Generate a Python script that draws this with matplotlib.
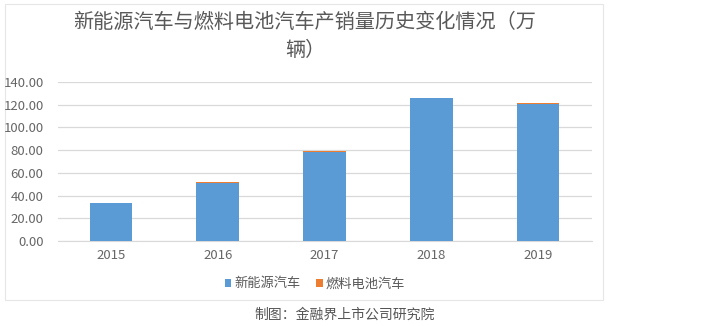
import numpy as np
import matplotlib.pyplot as plt
import matplotlib.patches as patches

plt.rcParams['font.family'] = ['Noto Sans CJK SC', 'DejaVu Sans']

years = ['2015', '2016', '2017', '2018', '2019']
nev = [33.1, 51.2, 78.5, 125.6, 120.6]      # 新能源汽车
fuel_cell = [0.0, 0.4, 0.6, 0.6, 0.7]       # 燃料电池汽车
yticks = [0, 20, 40, 60, 80, 100, 120, 140]

W, H = 722, 326
fig = plt.figure(figsize=(W / 100, H / 100), dpi=100)
fig.patch.set_facecolor('white')

# panel frame
fig.patches.append(patches.Rectangle((5 / W, 1 - 300 / H), 598 / W, 296 / H,
                                     transform=fig.transFigure, facecolor='white',
                                     edgecolor='#e6e6e6', linewidth=0.8, zorder=-5))

ax = fig.add_axes([57.5 / W, 1 - 241 / H, 534 / W, 159 / H])
ax.set_zorder(2)
x = np.arange(len(years))
ax.bar(x, nev, width=0.4, color='#5b9bd5', label='新能源汽车', zorder=3)
ax.bar(x, fuel_cell, width=0.4, bottom=nev, color='#ed7d31', label='燃料电池汽车', zorder=3)

ax.set_xlim(-0.5, len(years) - 0.5)
ax.set_ylim(0, 140)
ax.set_yticks(yticks)
ax.set_yticklabels(['%.2f' % v for v in yticks])
ax.set_xticks(x)
ax.set_xticklabels(years)
ax.tick_params(axis='both', length=0, labelsize=9.5, colors='#666666')
ax.tick_params(axis='y', pad=10)
ax.tick_params(axis='x', pad=6)
ax.grid(axis='y', color='#d9d9d9', linewidth=0.9, zorder=0)
ax.set_axisbelow(True)
for s in ['top', 'right', 'left']:
    ax.spines[s].set_visible(False)
ax.spines['bottom'].set_color('#d9d9d9')
ax.set_facecolor('none')

fig.text(305 / W, 1 - 23 / H, '新能源汽车与燃料电池汽车产销量历史变化情况（万',
         ha='center', va='center', fontsize=14.5, color='#595959')
fig.text(305 / W, 1 - 51 / H, '辆）', ha='center', va='center', fontsize=14.5, color='#595959')

leg = fig.legend(loc='center left', bbox_to_anchor=(213 / W, 1 - 284 / H), ncol=2,
                 frameon=False, fontsize=9.5, handlelength=0.5, handleheight=0.5,
                 handletextpad=0.2, columnspacing=1.2, labelcolor='#595959')

fig.text(345 / W, 1 - 315 / H, '制图：金融界上市公司研究院', ha='center', va='center',
         fontsize=10, color='#555555')

fig.savefig('out.png', dpi=100)
